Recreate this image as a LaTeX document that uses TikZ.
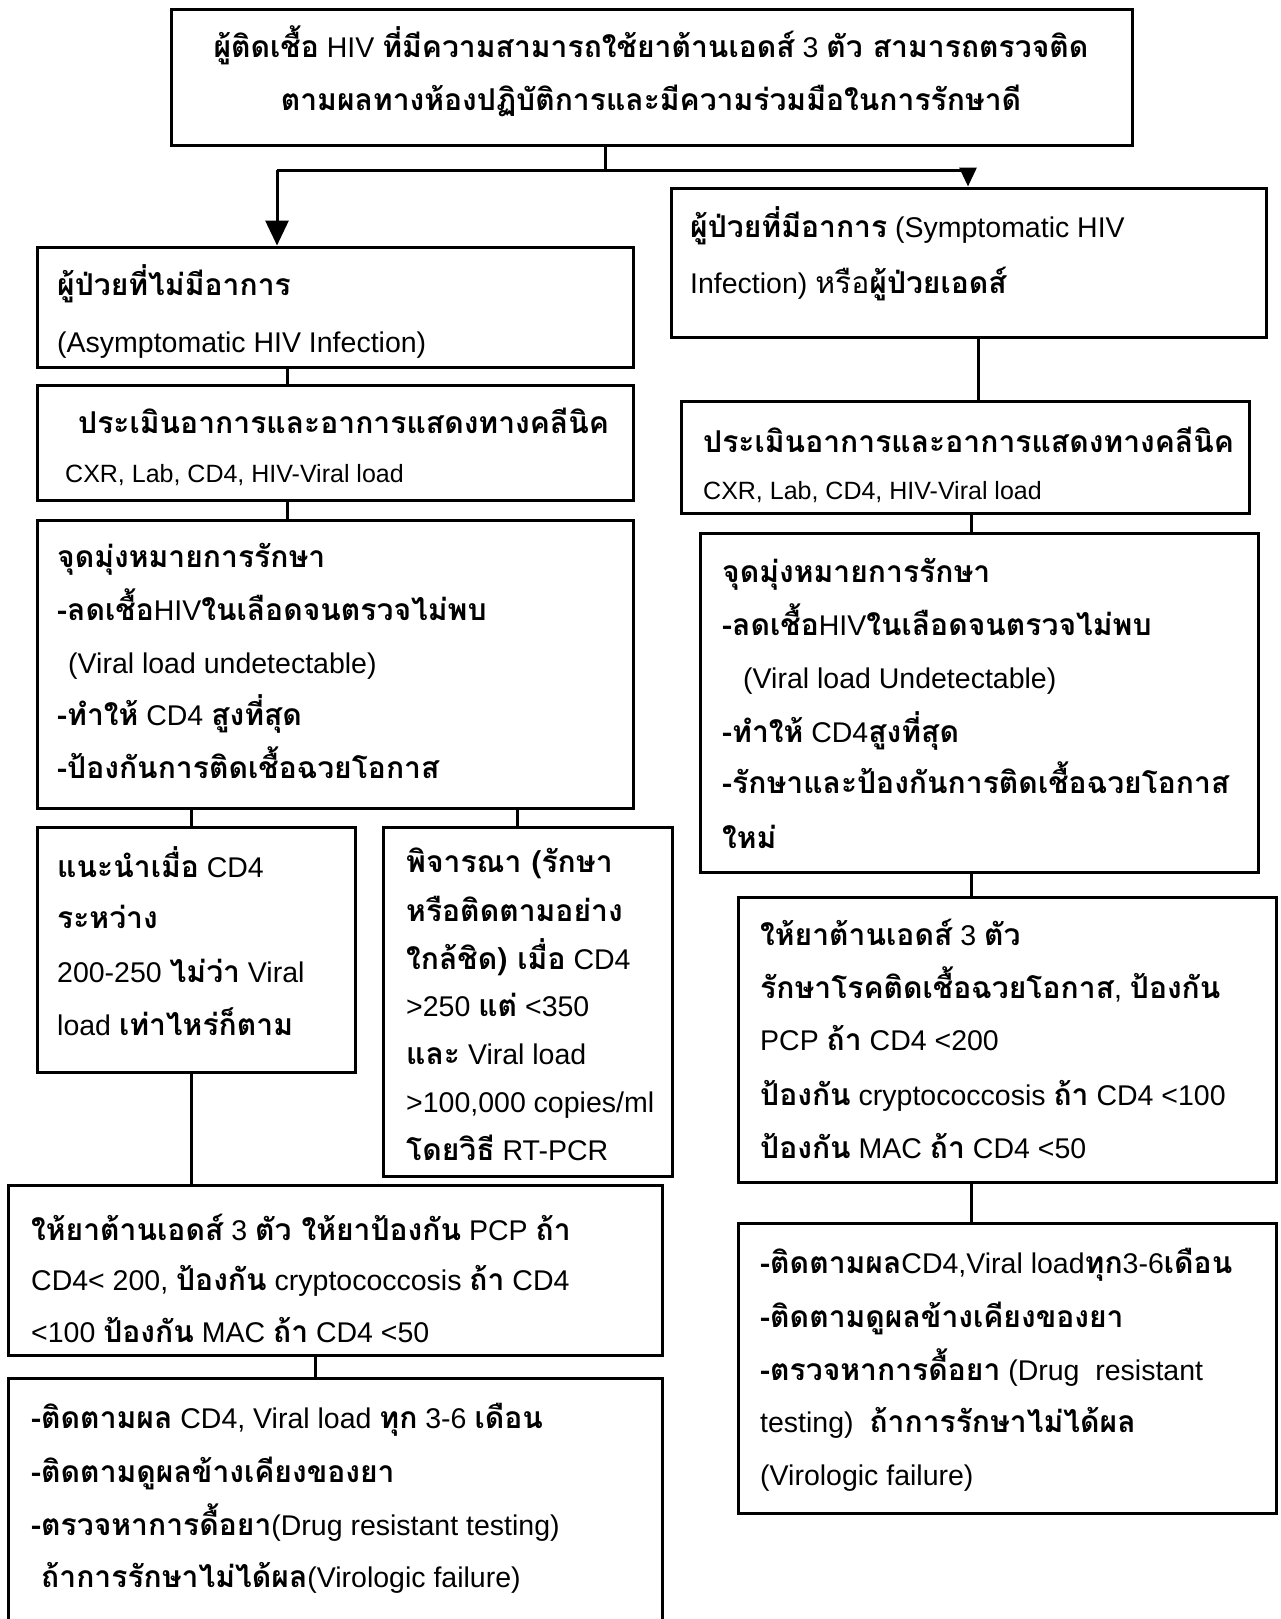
\documentclass[tikz,border=0pt]{standalone}
\usepackage{fontspec}
\setmainfont{Liberation Sans}
\newfontfamily\thaifont[Script=Thai,Scale=1.055]{Loma}
\usetikzlibrary{arrows.meta}
\newcommand\tha[1]{{\thaifont\bfseries #1}}
\newcommand\thr[1]{{\thaifont #1}}
\tikzset{
  bx/.style={draw, line width=3pt, inner sep=0pt, rectangle},
  txt/.style={anchor=base west, inner sep=0pt, font=\fontsize{28.5}{34}\selectfont},
  ctr/.style={txt, anchor=base},
  sml/.style={txt, font=\fontsize{25}{30}\selectfont},
  cn/.style={line width=3pt},
  bigarr/.style={cn, -{Triangle[width=23pt,length=25pt]}},
  smlarr/.style={cn, -{Triangle[width=17pt,length=19pt]}},
}
\newcommand\bx[5]{\node[bx, minimum width={#4-#2}, minimum height={#5-#3}] (#1) at ({(#2+#4)/2},{(#3+#5)/2}) {};}
\begin{document}
\begin{tikzpicture}[x=1pt,y=-1pt]
\fill[white] (0,0) rectangle (1281,1619);
\clip (0,0) rectangle (1281,1619);
% boxes
\bx{top}{171}{10}{1132}{145}
\bx{b2l}{37}{247}{633}{367}
\bx{b2r}{671}{188}{1266}{337}
\bx{b3l}{37}{385}{633}{500}
\bx{b3r}{681}{401}{1249}{513}
\bx{b4l}{37}{520}{633}{808}
\bx{b4r}{700}{533}{1258}{872}
\bx{b5a}{37}{827}{355}{1072}
\bx{b5b}{383}{827}{672}{1176}
\bx{b6l}{8}{1185}{662}{1355}
\bx{b7l}{8}{1378}{662}{1650}
\bx{b5r}{738}{897}{1276}{1182}
\bx{b6r}{738}{1223}{1276}{1513}
% texts
\node[ctr] (t01) at (651,58) {\tha{ผู้ติดเชื้อ} HIV \tha{ที่มีความสามารถใช้ยาต้านเอดส์} 3 \tha{ตัว สามารถตรวจติด}};
\node[ctr] (t02) at (651,110) {\tha{ตามผลทางห้องปฏิบัติการและมีความร่วมมือในการรักษาดี}};
\node[txt] (t03) at (57,295) {\tha{ผู้ป่วยที่ไม่มีอาการ}};
\node[txt] (t04) at (57,352) {(Asymptomatic HIV Infection)};
\node[txt] (t05) at (690,237) {\tha{ผู้ป่วยที่มีอาการ} (Symptomatic HIV};
\node[txt] (t06) at (690,293) {Infection) \thr{หรือ}\tha{ผู้ป่วยเอดส์}};
\node[txt] (t07) at (78,433) {\tha{ประเมินอาการและอาการแสดงทางคลีนิค}};
\node[sml] (t08) at (65,482) {CXR, Lab, CD4, HIV-Viral load};
\node[txt] (t09) at (703,452) {\tha{ประเมินอาการและอาการแสดงทางคลีนิค}};
\node[sml] (t10) at (703,499) {CXR, Lab, CD4, HIV-Viral load};
% b4l
\node[txt] (t11) at (57,567) {\tha{จุดมุ่งหมายการรักษา}};
\node[txt] (t12) at (57,620) {\tha{-ลดเชื้อ}HIV\tha{ในเลือดจนตรวจไม่พบ}};
\node[txt] (t13) at (68,673) {(Viral load undetectable)};
\node[txt] (t14) at (57,725) {\tha{-ทำให้} CD4 \tha{สูงที่สุด}};
\node[txt] (t15) at (57,778) {\tha{-ป้องกันการติดเชื้อฉวยโอกาส}};
% b4r
\node[txt] (t16) at (722,582) {\tha{จุดมุ่งหมายการรักษา}};
\node[txt] (t17) at (722,635) {\tha{-ลดเชื้อ}HIV\tha{ในเลือดจนตรวจไม่พบ}};
\node[txt] (t18) at (743,688) {(Viral load Undetectable)};
\node[txt] (t19) at (722,742) {\tha{-ทำให้} CD4\tha{สูงที่สุด}};
\node[txt] (t20) at (722,793) {\tha{-รักษาและป้องกันการติดเชื้อฉวยโอกาส}};
\node[txt] (t21) at (722,848) {\tha{ใหม่}};
% b5a
\node[txt] (t22) at (57,877) {\tha{แนะนำเมื่อ} CD4};
\node[txt] (t23) at (57,928) {\tha{ระหว่าง}};
\node[txt] (t24) at (57,982) {200-250 \tha{ไม่ว่า} Viral};
\node[txt] (t25) at (57,1035) {load \tha{เท่าไหร่ก็ตาม}};
% b5b
\node[txt] (t26) at (406,872) {\tha{พิจารณา (รักษา}};
\node[txt] (t27) at (406,921) {\tha{หรือติดตามอย่าง}};
\node[txt] (t28) at (406,969) {\tha{ใกล้ชิด) เมื่อ} CD4};
\node[txt] (t29) at (406,1016) {>250 \tha{แต่} <350};
\node[txt] (t30) at (406,1064) {\tha{และ} Viral load};
\node[txt] (t31) at (406,1112) {>100,000 copies/ml};
\node[txt] (t32) at (406,1160) {\tha{โดยวิธี} RT-PCR};
% b6l
\node[txt] (t33) at (31,1240) {\tha{ให้ยาต้านเอดส์} 3 \tha{ตัว ให้ยาป้องกัน} PCP \tha{ถ้า}};
\node[txt] (t34) at (31,1290) {CD4< 200, \tha{ป้องกัน} cryptococcosis \tha{ถ้า} CD4};
\node[txt] (t35) at (31,1342) {<100 \tha{ป้องกัน} MAC \tha{ถ้า} CD4 <50};
% b7l
\node[txt] (t36) at (31,1428) {\tha{-ติดตามผล} CD4, Viral load \tha{ทุก} 3-6 \tha{เดือน}};
\node[txt] (t37) at (31,1482) {\tha{-ติดตามดูผลข้างเคียงของยา}};
\node[txt] (t38) at (31,1535) {\tha{-ตรวจหาการดื้อยา}(Drug resistant testing)};
\node[txt] (t39) at (41,1587) {\tha{ถ้าการรักษาไม่ได้ผล}(Virologic failure)};
% b5r
\node[txt] (t40) at (760,945) {\tha{ให้ยาต้านเอดส์} 3 \tha{ตัว}};
\node[txt] (t41) at (760,998) {\tha{รักษาโรคติดเชื้อฉวยโอกาส}, \tha{ป้องกัน}};
\node[txt] (t42) at (760,1050) {PCP \tha{ถ้า} CD4 <200};
\node[txt] (t43) at (760,1105) {\tha{ป้องกัน} cryptococcosis \tha{ถ้า} CD4 <100};
\node[txt] (t44) at (760,1158) {\tha{ป้องกัน} MAC \tha{ถ้า} CD4 <50};
% b6r
\node[txt] (t45) at (760,1273) {\tha{-ติดตามผล}CD4,Viral load\tha{ทุก}3-6\tha{เดือน}};
\node[txt] (t46) at (760,1327) {\tha{-ติดตามดูผลข้างเคียงของยา}};
\node[txt] (t47) at (760,1380) {\tha{-ตรวจหาการดื้อยา} (Drug\ \ resistant};
\node[txt] (t48) at (760,1432) {testing)\ \ \tha{ถ้าการรักษาไม่ได้ผล}};
\node[txt] (t49) at (760,1485) {(Virologic failure)};
% connector coordinates
\coordinate (jc) at (605,170);
\coordinate (jl) at (277,170);
\coordinate (jr) at (968,170);
\coordinate (x287) at (287,0);
\coordinate (x191) at (191,0);
\coordinate (x517) at (517,0);
\coordinate (x315) at (315,0);
\coordinate (x978) at (978,0);
\coordinate (x971) at (971,0);
% connectors
\draw[cn] (jc |- top.south) -- (jc);
\draw[cn] (jl) -- (jr);
\draw[bigarr] (jl) -- (jl |- b2l.north);
\draw[smlarr] (jr) -- (jr |- b2r.north);
\draw[cn] (x287 |- b2l.south) -- (x287 |- b3l.north);
\draw[cn] (x287 |- b3l.south) -- (x287 |- b4l.north);
\draw[cn] (x191 |- b4l.south) -- (x191 |- b5a.north);
\draw[cn] (x517 |- b4l.south) -- (x517 |- b5b.north);
\draw[cn] (x191 |- b5a.south) -- (x191 |- b6l.north);
\draw[cn] (x315 |- b6l.south) -- (x315 |- b7l.north);
\draw[cn] (x978 |- b2r.south) -- (x978 |- b3r.north);
\draw[cn] (x971 |- b3r.south) -- (x971 |- b4r.north);
\draw[cn] (x971 |- b4r.south) -- (x971 |- b5r.north);
\draw[cn] (x971 |- b5r.south) -- (x971 |- b6r.north);
\end{tikzpicture}
\end{document}
